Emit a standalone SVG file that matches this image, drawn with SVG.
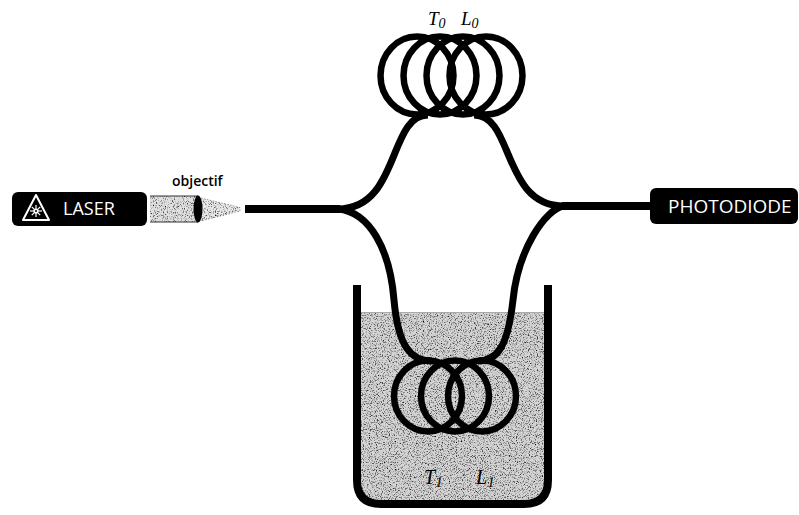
<svg xmlns="http://www.w3.org/2000/svg" width="799" height="515" viewBox="0 0 799 515">
  <style>
    .fiber { fill: none; stroke: #000; stroke-width: 7; stroke-linecap: butt; }
    .bar { fill: none; stroke: #000; stroke-width: 8; }
    .loop { fill: none; stroke: #000; stroke-width: 6.5; }
    .box { fill: #000; }
    .boxtext { fill: #fff; font-family: "Open Sans", "Liberation Sans", sans-serif; }
    .sym { font-family: "Liberation Serif", "DejaVu Serif", serif; font-style: italic; fill: #000; }
  </style>
  <defs>
    <filter id="grain" x="0" y="0" width="1" height="1">
      <feTurbulence type="fractalNoise" baseFrequency="0.85" numOctaves="2" seed="7" result="n"/>
      <feColorMatrix in="n" type="matrix" values="0 0 0 0 0  0 0 0 0 0  0 0 0 0 0  2.6 0 0 0 -1.3" result="dots"/>
      <feComposite in="dots" in2="SourceGraphic" operator="in"/>
    </filter>
    <filter id="grainLight" x="0" y="0" width="1" height="1">
      <feTurbulence type="fractalNoise" baseFrequency="0.9" numOctaves="2" seed="3" result="n"/>
      <feColorMatrix in="n" type="matrix" values="0 0 0 0 0  0 0 0 0 0  0 0 0 0 0  2.6 0 0 0 -1.35" result="dots"/>
      <feComposite in="dots" in2="SourceGraphic" operator="in"/>
    </filter>
  </defs>

  <!-- liquid bath -->
  <g id="bath">
    <path d="M361,312 H544 V480 Q544,500 524,500 H381 Q361,500 361,480 Z" fill="#d4d4d4"/>
    <path d="M361,312 H544 V480 Q544,500 524,500 H381 Q361,500 361,480 Z" fill="#000" filter="url(#grain)"/>
    <line x1="361" y1="312.5" x2="544" y2="312.5" stroke="#aaa" stroke-width="1"/>
    <path d="M357,285 V480 Q357,504 381,504 H524 Q548,504 548,480 V285" fill="none" stroke="#000" stroke-width="8"/>
  </g>

  <!-- laser source -->
  <g id="laser">
    <rect class="box" x="12" y="192" width="135" height="34" rx="6"/>
    <polygon points="36,195 23,220 49,220" fill="#000" stroke="#fff" stroke-width="2" stroke-linejoin="round"/>
    <g stroke="#fff" stroke-width="1.2">
      <line x1="36" y1="205" x2="36" y2="217"/>
      <line x1="30" y1="211" x2="42" y2="211"/>
      <line x1="31.8" y1="206.8" x2="40.2" y2="215.2"/>
      <line x1="31.8" y1="215.2" x2="40.2" y2="206.8"/>
    </g>
    <circle cx="36" cy="211" r="2.6" fill="#fff"/>
    <circle cx="36" cy="211" r="1" fill="#000"/>
    <text class="boxtext" x="63" y="215" font-size="18">LASER</text>
  </g>

  <!-- focusing objective -->
  <g id="objectif">
    <rect x="150" y="196" width="48" height="26" fill="#e0e0e0"/>
    <rect x="150" y="196" width="48" height="26" fill="#000" filter="url(#grainLight)"/>
    <line x1="150" y1="196" x2="198" y2="196" stroke="#333" stroke-width="1"/>
    <line x1="150" y1="222" x2="198" y2="222" stroke="#333" stroke-width="1"/>
    <polygon points="201,198 240,207.5 240,211 201,221" fill="#e8e8e8" stroke="#888" stroke-width="0.8" stroke-dasharray="1.5 1.5"/>
    <polygon points="201,198 240,207.5 240,211 201,221" fill="#000" filter="url(#grainLight)"/>
    <ellipse cx="198" cy="209" rx="4.5" ry="13.5" fill="#000"/>
    <text x="172" y="186" font-size="14" font-weight="600" font-family="Open Sans, Liberation Sans, sans-serif" fill="#000">objectif</text>
  </g>

  <!-- fibre connectors -->
  <g id="connectors">
    <line class="bar" x1="245" y1="209" x2="340" y2="209"/>
    <line class="bar" x1="562" y1="206" x2="652" y2="206"/>
    <path class="fiber" d="M338,209 C400,209 388,115 428,115"/>
    <path class="fiber" d="M564,206 C502,206 514,115 474,115"/>
    <path class="fiber" d="M338,209 C370,212 390,250 394,300 C398,345 410,361 432,361"/>
    <path class="fiber" d="M564,206 C545,209 518,250 513,300 C508,345 498,361 478,361"/>
  </g>

  <!-- reference coil -->
  <g id="coil-ref">
    <ellipse class="loop" cx="417" cy="75.5" rx="36.5" ry="39"/>
    <ellipse class="loop" cx="440" cy="75.5" rx="36.5" ry="39"/>
    <ellipse class="loop" cx="463" cy="75.5" rx="36.5" ry="39"/>
    <ellipse class="loop" cx="486" cy="75.5" rx="36.5" ry="39"/>
    <text class="sym" x="428" y="25" font-size="19">T<tspan font-size="14" dy="3">0</tspan></text>
    <text class="sym" x="461" y="25" font-size="19">L<tspan font-size="14" dy="3">0</tspan></text>
  </g>

  <!-- immersed coil -->
  <g id="coil-bath">
    <ellipse class="loop" cx="428" cy="396" rx="34" ry="35.5"/>
    <ellipse class="loop" cx="455" cy="396" rx="34" ry="35.5"/>
    <ellipse class="loop" cx="482" cy="396" rx="34" ry="35.5"/>
    <text class="sym" x="424" y="484" font-size="20">T<tspan font-size="15" dy="3">1</tspan></text>
    <text class="sym" x="476" y="484" font-size="20">L<tspan font-size="15" dy="3">1</tspan></text>
  </g>

  <!-- detector -->
  <g id="photodiode">
    <rect class="box" x="650" y="188" width="148" height="36" rx="6"/>
    <text class="boxtext" x="668" y="213" font-size="19">PHOTODIODE</text>
  </g>
</svg>
